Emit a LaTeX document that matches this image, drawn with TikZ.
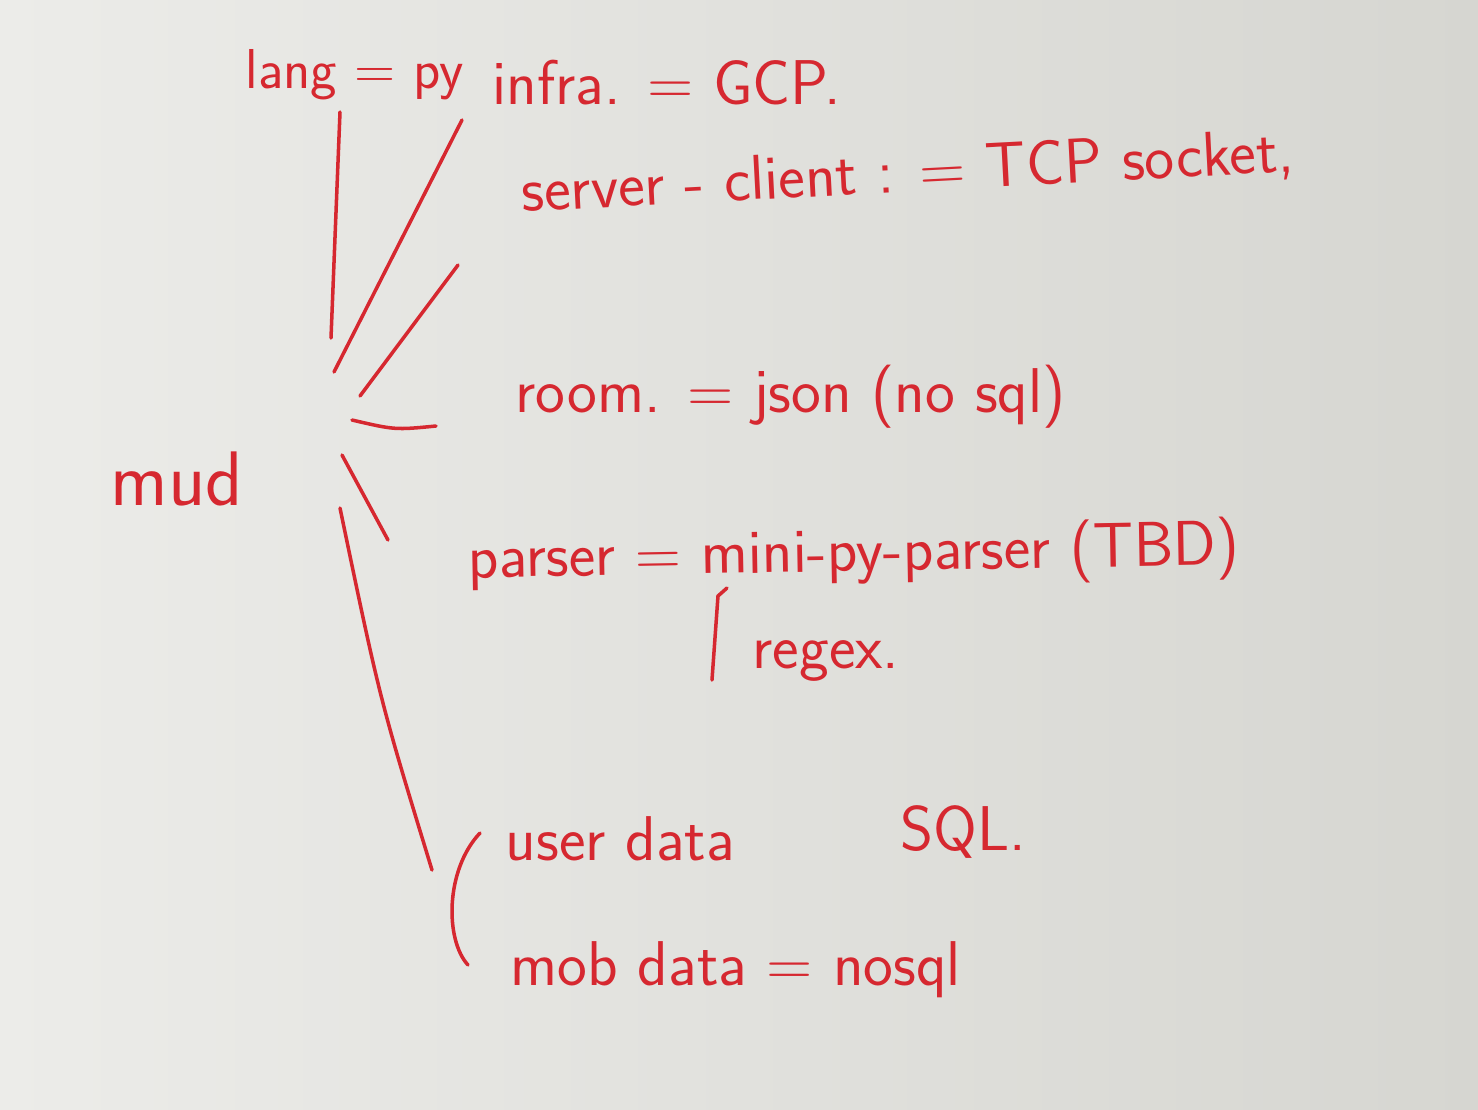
\documentclass[tikz,border=0pt]{standalone}
\usepackage{tikz}
\definecolor{ink}{RGB}{214,40,48}
\definecolor{boardlight}{RGB}{236,236,233}
\definecolor{boarddark}{RGB}{214,214,209}

\begin{document}
\begin{tikzpicture}[x=0.1mm,y=-0.1mm,
    note/.style={text=ink,font=\sffamily\fontsize{18}{21}\selectfont,inner sep=0pt,anchor=base west},
    stroke/.style={draw=ink,line width=1pt,line cap=round}]
        % board
        \shade[left color=boardlight,right color=boarddark] (0,0) rectangle (1478,1109);
        % labels
        \node[note,font=\sffamily\fontsize{22}{26}\selectfont] (mud) at (110,505) {mud};
        \node[note,font=\sffamily\fontsize{16}{19}\selectfont] (lang) at (245,88) {lang = py};
        \node[note] (infra) at (492,104) {infra. = GCP.};
        \node[note,rotate=3] (server) at (522,212) {server - client : = TCP socket,};
        \node[note] (room) at (515,412) {room. = json (no sql)};
        \node[note,rotate=1] (parser) at (468,578) {parser = mini-py-parser (TBD)};
        \node[note] (regex) at (752,668) {regex.};
        \node[note] (user) at (505,860) {user data};
        \node[note] (sql) at (900,850) {SQL.};
        \node[note] (mob) at (510,985) {mob data = nosql};
        % line ends near mud and near each item
        \coordinate (hub-lang) at (331,338);
        \coordinate (to-lang) at (340,112);
        \coordinate (hub-infra) at (334,372);
        \coordinate (to-infra) at (462,120);
        \coordinate (hub-server) at (360,396);
        \coordinate (to-server) at (458,265);
        \coordinate (hub-room) at (352,420);
        \coordinate (to-room) at (436,426);
        \coordinate (hub-parser) at (342,455);
        \coordinate (to-parser) at (388,540);
        \coordinate (hub-data) at (340,508);
        \coordinate (to-data) at (432,870);
        \coordinate (bar-top) at (718,596);
        \coordinate (bar-bot) at (712,680);
        \coordinate (brace-top) at (480,833);
        \coordinate (brace-bot) at (468,965);
        \draw[stroke] (hub-lang) -- (to-lang);
        \draw[stroke] (hub-infra) -- (to-infra);
        \draw[stroke] (hub-server) -- (to-server);
        \draw[stroke] (hub-room) .. controls (395,430) .. (to-room);
        \draw[stroke] (hub-parser) -- (to-parser);
        \draw[stroke] (hub-data) .. controls (380,700) .. (to-data);
        \draw[stroke] (bar-bot) -- (bar-top) -- ++(9,-8);
        \draw[stroke] (brace-top) .. controls (445,870) and (445,940) .. (brace-bot);
    \end{tikzpicture}
\end{document}
